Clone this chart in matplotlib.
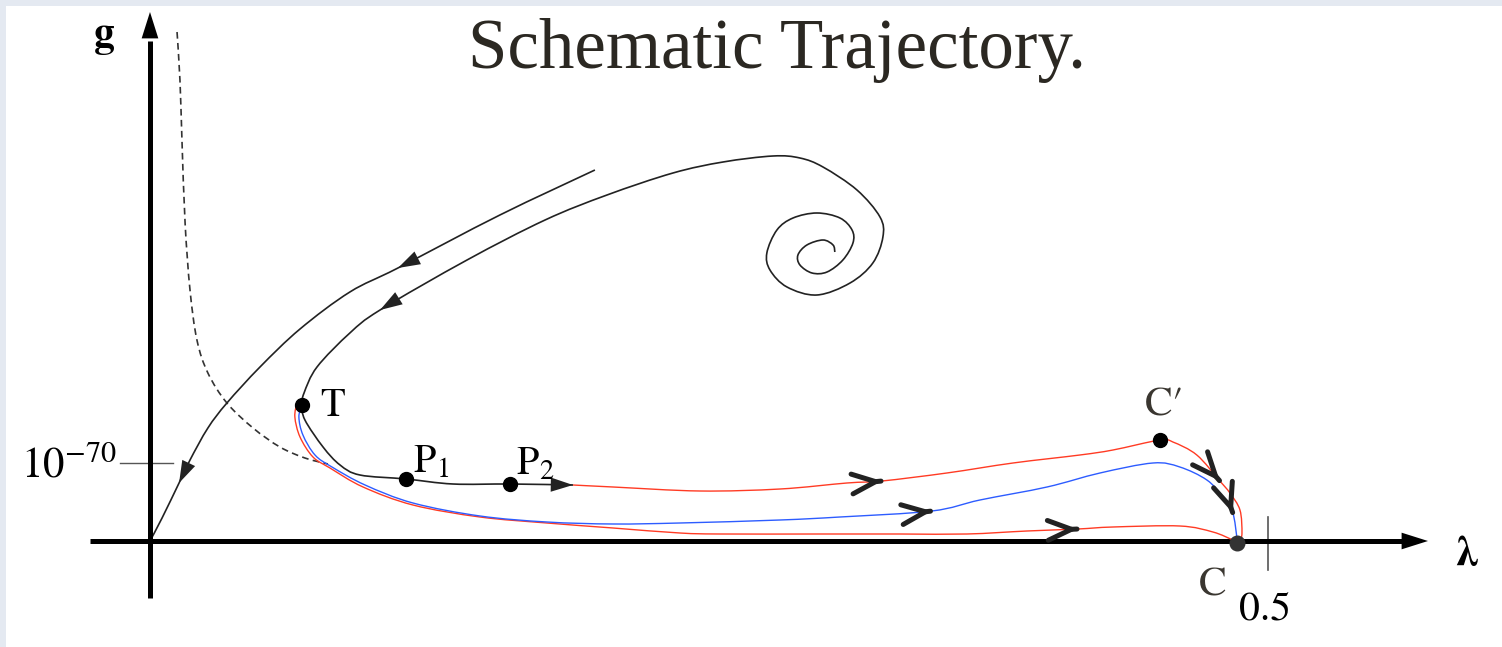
import numpy as np
import matplotlib
matplotlib.use('Agg')
import matplotlib.pyplot as plt
from matplotlib.path import Path
from matplotlib.patches import PathPatch

plt.rcParams['mathtext.fontset'] = 'stix'

# flow lines in the (lambda, g) plane; g is in schematic units, 10^-70 sits at g = 0.78
# dashed separatrix
dash_lam = [0.0121, 0.0134, 0.0143, 0.0157, 0.0179, 0.0210, 0.0259, 0.0344, 0.0461, 0.0581, 0.0693, 0.0796]
dash_g = [5.09, 4.61, 4.01, 3.18, 2.51, 2.01, 1.68, 1.38, 1.13, 0.94, 0.83, 0.77]

# trajectory running into the Gaussian fixed point
a_lam = [0.1990, 0.1565, 0.1109, 0.0894, 0.0671, 0.0492, 0.0344, 0.0259, 0.0179, 0.0130, 0.0054, 0.0]
a_g = [3.71, 3.26, 2.73, 2.49, 2.12, 1.74, 1.38, 1.13, 0.81, 0.58, 0.23, 0.0]

# spiral out of the UV fixed point, down to T and on through P1, P2
b_lam = [0.3063, 0.3055, 0.3010, 0.2938, 0.2898, 0.2907, 0.2961, 0.3028, 0.3099, 0.3144, 0.3140,
         0.3086, 0.2983, 0.2876, 0.2804, 0.2759, 0.2773, 0.2849, 0.2983, 0.3131, 0.3233, 0.3278,
         0.3265, 0.3162, 0.3010, 0.2907, 0.2786, 0.2563, 0.2339, 0.2044, 0.1767, 0.1418, 0.1029,
         0.0894, 0.0747, 0.0689, 0.0680, 0.0693, 0.0774, 0.0850, 0.0939, 0.1145, 0.1355, 0.1610,
         0.1892]
b_g = [2.89, 2.96, 3.01, 2.96, 2.86, 2.76, 2.68, 2.69, 2.81, 2.98, 3.11,
       3.23, 3.28, 3.23, 3.11, 2.88, 2.71, 2.54, 2.46, 2.58, 2.78, 3.04,
       3.24, 3.51, 3.74, 3.83, 3.85, 3.79, 3.68, 3.46, 3.21, 2.81, 2.31,
       2.08, 1.74, 1.48, 1.36, 1.21, 0.94, 0.76, 0.66, 0.62, 0.57, 0.57,
       0.56]

# red branch from P2 over C' down to C
r1_lam = [0.1892, 0.2071, 0.2460, 0.2818, 0.3117, 0.3274, 0.3564, 0.3860, 0.4159, 0.4307, 0.4517,
          0.4575, 0.4682, 0.4785, 0.4830, 0.4875, 0.4884, 0.4875]
r1_g = [0.56, 0.54, 0.50, 0.52, 0.58, 0.60, 0.68, 0.78, 0.86, 0.91, 1.01,
        0.99, 0.86, 0.60, 0.48, 0.31, 0.08, 0.00]

# blue branch from T to C
bl_lam = [0.0680, 0.0666, 0.0684, 0.0738, 0.0814, 0.0962, 0.1176, 0.1476, 0.1775, 0.2071, 0.2370,
          0.2818, 0.3086, 0.3497, 0.3712, 0.4012, 0.4249, 0.4486, 0.4606, 0.4727, 0.4799, 0.4843,
          0.4861]
bl_g = [1.36, 1.24, 1.06, 0.86, 0.74, 0.56, 0.38, 0.25, 0.19, 0.17, 0.18,
        0.21, 0.24, 0.30, 0.41, 0.54, 0.68, 0.78, 0.74, 0.61, 0.44, 0.28,
        0.04]

# lower red branch from T hugging the lambda axis
r2_lam = [0.0657, 0.0648, 0.0671, 0.0729, 0.0805, 0.0953, 0.1176, 0.1476, 0.1775, 0.2071, 0.2370,
          0.2549, 0.2996, 0.3354, 0.3654, 0.3922, 0.4150, 0.4307, 0.4606, 0.4754, 0.4843]
r2_g = [1.38, 1.24, 1.04, 0.84, 0.73, 0.54, 0.36, 0.24, 0.18, 0.13, 0.08,
        0.07, 0.07, 0.07, 0.07, 0.10, 0.12, 0.14, 0.15, 0.09, 0.01]

# marked points T, P1, P2, C', C
dot_lam = [0.0680, 0.1145, 0.1610, 0.4517, 0.4861]
dot_g = [1.36, 0.62, 0.57, 1.01, -0.02]

g_tick = 0.78
g_tick_label = r'$10^{-70}$'
lam_tick = 0.5
lam_tick_label = '0.5'

BLACK = '#222222'
RED = '#ff3b24'
BLUE = '#2d5cff'


def smooth_path(lam, g):
    # Catmull-Rom through the given points, written as cubic Bezier segments
    p = np.column_stack([lam, g])
    n = len(p)
    verts = [p[0]]
    codes = [Path.MOVETO]
    for i in range(n - 1):
        p0 = p[max(i - 1, 0)]
        p1 = p[i]
        p2 = p[i + 1]
        p3 = p[min(i + 2, n - 1)]
        verts += [p1 + (p2 - p0) / 6.0, p2 - (p3 - p1) / 6.0, p2]
        codes += [Path.CURVE4] * 3
    return Path(verts, codes)


def draw_curve(ax, lam, g, color, lw, ls='-', z=2):
    ax.add_patch(PathPatch(smooth_path(lam, g), fill=False, edgecolor=color,
                           lw=lw, linestyle=ls, zorder=z, capstyle='butt'))


def head(ax, lam, g, i, style, ms, lw, color=BLACK):
    n = len(lam)
    j0, j1 = max(i - 1, 0), min(i + 1, n - 1)
    d = (lam[j1] - lam[j0], g[j1] - g[j0])
    back = (lam[i] - 0.01 * d[0], g[i] - 0.01 * d[1])
    ax.annotate('', xy=(lam[i], g[i]), xytext=back,
                arrowprops=dict(arrowstyle=style, mutation_scale=ms, lw=lw, color=color,
                                shrinkA=0, shrinkB=0, joinstyle='miter'),
                zorder=6)


fig = plt.figure(figsize=(15.02, 6.47), dpi=100, facecolor='#e4e9f1')
ax = fig.add_axes([6 / 1502, 0, 1496 / 1502, 641 / 647])
ax.set_facecolor('white')
ax.set_xlim(-0.0644, 0.6047)
ax.set_ylim(-1.06, 5.35)
for s in ax.spines.values():
    s.set_visible(False)
ax.set_xticks([])
ax.set_yticks([])

# coordinate axes
ax.plot([0, 0], [-0.57, 5.0], color='black', lw=3.6, solid_capstyle='butt', zorder=3)
ax.plot([-0.0268, 0.56], [0, 0], color='black', lw=3.6, solid_capstyle='butt', zorder=3)
ax.annotate('', xy=(0, 5.29), xytext=(0, 5.0),
            arrowprops=dict(arrowstyle='-|>,head_length=0.95,head_width=0.3', mutation_scale=20,
                            lw=0, color='black', shrinkA=0, shrinkB=0), zorder=3)
ax.annotate('', xy=(0.5716, 0), xytext=(0.56, 0),
            arrowprops=dict(arrowstyle='-|>,head_length=0.95,head_width=0.3', mutation_scale=20,
                            lw=0, color='black', shrinkA=0, shrinkB=0), zorder=3)

# tick marks
ax.plot([-0.0134, 0.0103], [g_tick, g_tick], color='#555555', lw=1.0, zorder=2)
ax.plot([lam_tick, lam_tick], [0.24, -0.29], color='#555555', lw=1.2, zorder=2)

# flow lines
draw_curve(ax, dash_lam, dash_g, '#333333', 1.2, ls=(0, (4, 2.6)))
draw_curve(ax, a_lam, a_g, BLACK, 1.2)
draw_curve(ax, b_lam, b_g, BLACK, 1.2)
draw_curve(ax, r2_lam, r2_g, RED, 1.0, z=4)
draw_curve(ax, bl_lam, bl_g, BLUE, 1.0, z=4)
draw_curve(ax, r1_lam, r1_g, RED, 1.0, z=4)

# filled heads on the black flow lines
tri = '-|>,head_length=1.0,head_width=0.32'
head(ax, a_lam, a_g, 2, tri, 16, 0)
head(ax, a_lam, a_g, 9, tri, 16, 0)
head(ax, b_lam, b_g, 32, tri, 16, 0)
head(ax, b_lam, b_g, len(b_lam) - 1, tri, 16, 0)

# open chevrons on the coloured branches
chev = '->,head_length=1.0,head_width=0.42'
head(ax, r1_lam, r1_g, 5, chev, 17, 3.6)
head(ax, r1_lam, r1_g, 13, chev, 17, 3.6)
head(ax, bl_lam, bl_g, 13, chev, 17, 3.6)
head(ax, bl_lam, bl_g, 21, chev, 17, 3.6)
head(ax, r2_lam, r2_g, 16, chev, 17, 3.6)

# points
ax.plot(dot_lam[:4], dot_g[:4], 'o', color='black', ms=10, zorder=7)
ax.plot(dot_lam[4:], dot_g[4:], 'o', color='#333333', ms=10.5, zorder=7)

serif = 'STIXGeneral'
ax.text(0.0760, 1.25, 'T', fontsize=29, family=serif, ha='left', va='baseline', zorder=8)
ax.text(0.1176, 0.68, r'$\mathrm{P}_1$', fontsize=29, ha='left', va='baseline', zorder=8)
ax.text(0.1637, 0.66, r'$\mathrm{P}_2$', fontsize=29, ha='left', va='baseline', zorder=8)
ax.text(0.4539, 1.25, 'C\u2032', fontsize=30, family=serif, color='#3a3630',
        ha='center', va='baseline', zorder=8)
ax.text(0.4754, -0.55, 'C', fontsize=30, family=serif, color='#3a3630',
        ha='center', va='baseline', zorder=8)
ax.text(lam_tick - 0.0013, -0.79, lam_tick_label, fontsize=30, family=serif,
        ha='center', va='baseline', zorder=8)
ax.text(-0.0148, 0.63, g_tick_label, fontsize=31, ha='right', va='baseline', zorder=8)
ax.text(-0.0206, 4.95, 'g', fontsize=30, family=serif, weight='bold', ha='center', va='baseline')
ax.text(0.5890, -0.24, '\u03bb', fontsize=30, family=serif, weight='bold', ha='center', va='baseline')

ax.text(0.2804, 4.73, 'Schematic Trajectory.', fontsize=51, family='Liberation Serif',
        color='#2b2822', ha='center', va='baseline')

fig.savefig('out.png', dpi=100, facecolor=fig.get_facecolor())
